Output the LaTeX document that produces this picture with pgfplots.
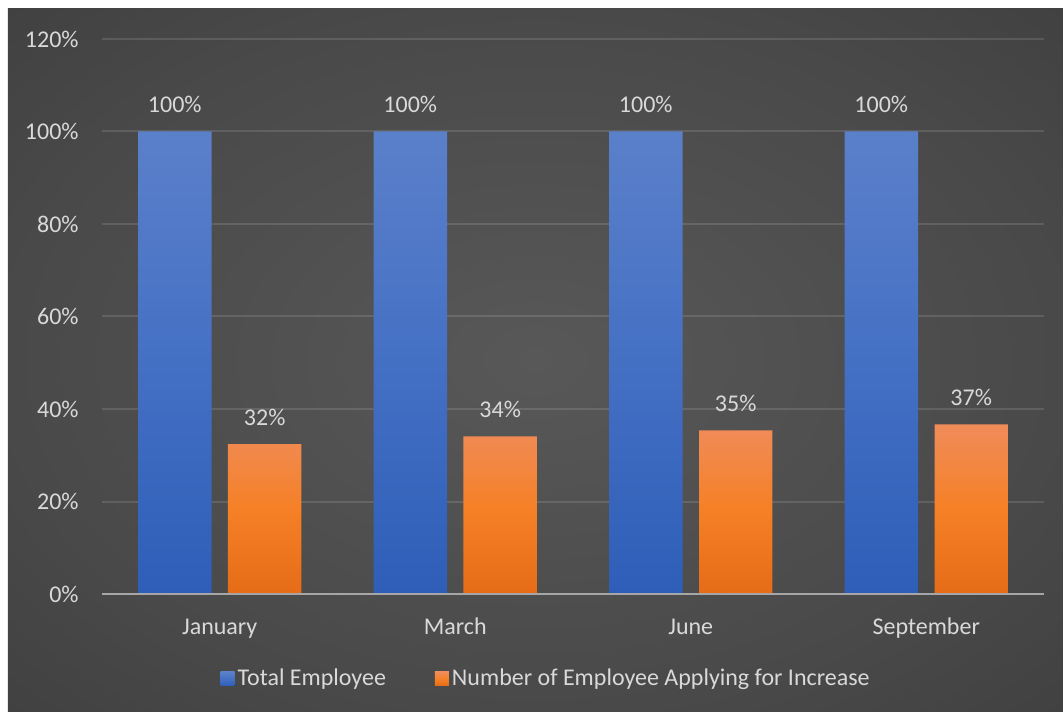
\documentclass[border=0pt]{standalone}
\usepackage{pgfplots}
\pgfplotsset{compat=1.18}
\usepackage{fontspec}
\setmainfont{Carlito}
\definecolor{txt}{HTML}{D9D9D9}
\definecolor{axgrey}{HTML}{A6A6A6}
\definecolor{blueT}{HTML}{5B80CA}
\definecolor{blueM}{HTML}{4470C4}
\definecolor{blueB}{HTML}{2E5EB8}
\definecolor{orT}{HTML}{F08C5A}
\definecolor{orM}{HTML}{F58026}
\definecolor{orB}{HTML}{E66C17}
\definecolor{bg0}{HTML}{585858}
\definecolor{bg1}{HTML}{494949}
\definecolor{bg2}{HTML}{363636}
\definecolor{bg3}{HTML}{282828}
\pgfdeclareradialshading{bgshade}{\pgfpoint{0bp}{0bp}}{%
  color(0bp)=(bg0);
  color(25bp)=(bg1);
  color(50bp)=(bg2);
  color(71bp)=(bg3)}
\newcommand{\fs}{\fontsize{12}{14}\selectfont}
\begin{document}
\fs
\begin{tikzpicture}[x=1pt,y=1pt]
\useasboundingbox (-51,-58.5) rectangle (480.5,297);
\shade[shading=bgshade] (-47,-58.5) rectangle (480.5,292.5);
\begin{axis}[
  scale only axis, width=471pt, height=277.5pt,
  xmin=-0.5, xmax=3.5, ymin=0, ymax=120,
  clip=false,
  ybar, bar width=0.312,
  axis line style={draw=none},
  tick style={draw=none},
  ymajorgrids, major grid style={white, opacity=0.12, line width=1pt},
  ytick={0,20,40,60,80,100,120},
  yticklabel={\pgfmathprintnumber{\tick}\%},
  xtick={0,1,2,3},
  xticklabels={January, March, June, September},
  /pgf/number format/assume math mode=true,
  tick label style={color=txt, font=\fs},
  yticklabel style={anchor=east, inner sep=0pt, xshift=-11.5pt},
  xticklabel style={anchor=north, inner sep=0pt, yshift=-8pt, text height=8pt, text depth=2pt},
  nodes near coords={\pgfmathprintnumber[fixed,precision=0]{\pgfplotspointmeta}\%},
  every node near coord/.append style={text=txt, font=\fs, anchor=south, inner sep=0pt, yshift=9pt},
  legend columns=2,
  legend style={at={(0.472,-0.153)}, anchor=center, draw=none, fill=none,
    text=txt, font=\fs, nodes={inner sep=1.5pt},
    /tikz/every even column/.append style={column sep=23pt}},
  legend image code/.code={\fill[#1] (0pt,-3.5pt) rectangle (7pt,3.5pt);},
]
\addplot[draw=none, bar shift=-0.191, top color=blueT, bottom color=blueB, middle color=blueM]
  coordinates {(0,100) (1,100) (2,100) (3,100)};
\addlegendentry{Total Employee}
\addplot[draw=none, bar shift=0.191, top color=orT, bottom color=orB, middle color=orM]
  coordinates {(0,32.4) (1,34.1) (2,35.4) (3,36.7)};
\addlegendentry{Number of Employee Applying for Increase}
\addplot[sharp plot, draw=axgrey, line width=1pt, forget plot, nodes near coords={}]
  coordinates {(-0.5,0) (3.5,0)};
\end{axis}
\end{tikzpicture}
\end{document}
